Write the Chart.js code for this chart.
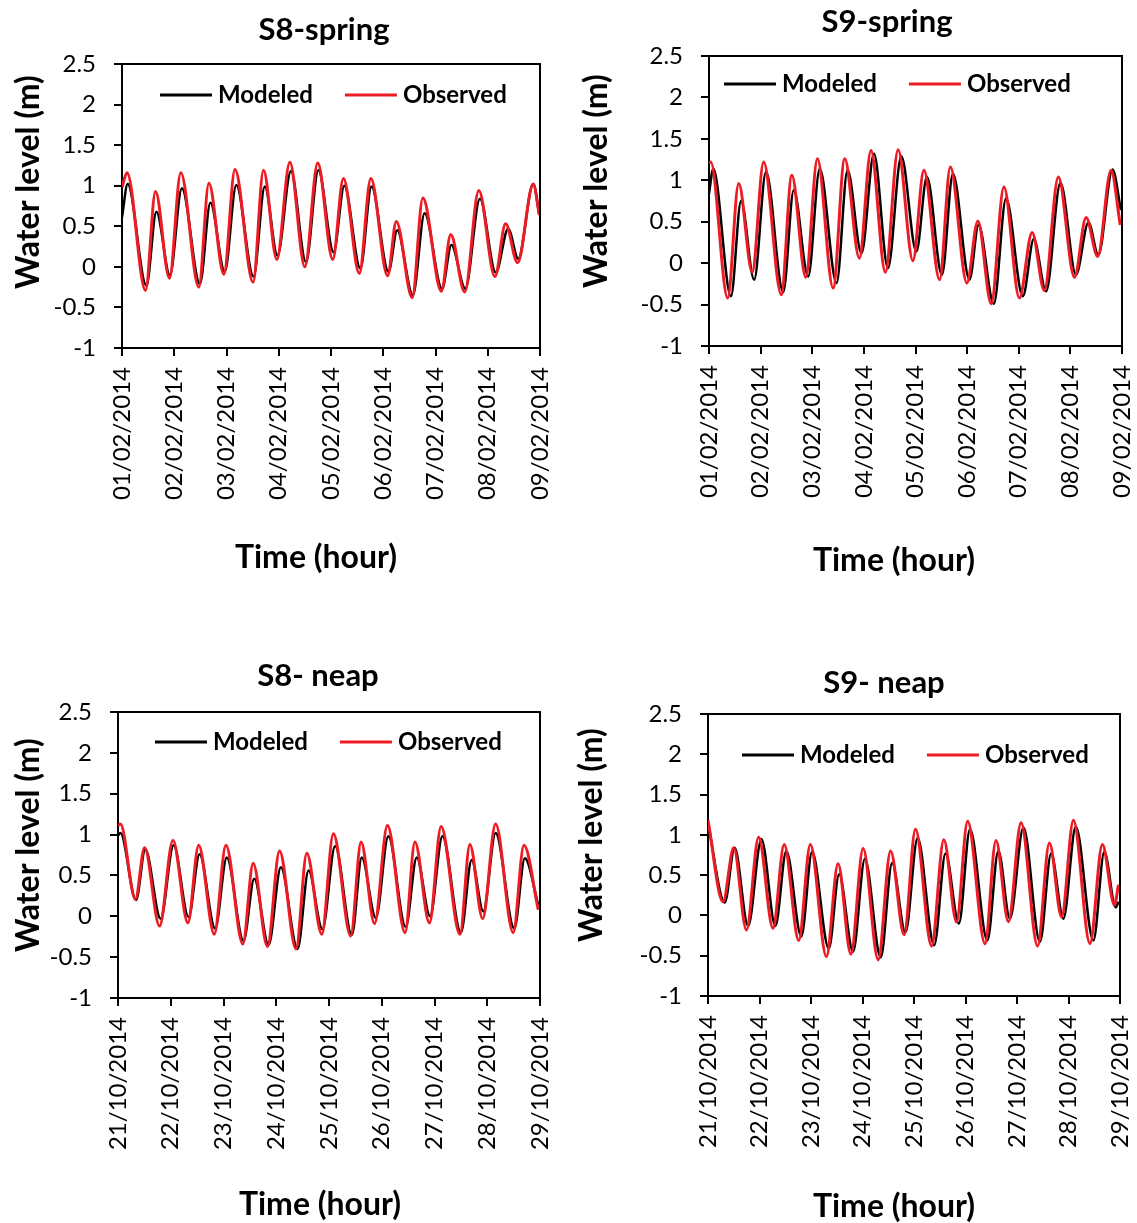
<!DOCTYPE html>
<html>
<head>
<meta charset="utf-8">
<title>Water level - modeled vs observed</title>
<script src="https://cdn.jsdelivr.net/npm/chart.js@4.4.1/dist/chart.umd.min.js"></script>
<style>
    html, body { margin: 0; padding: 0; background: #fff; }
    #wrap { position: relative; width: 1137px; height: 1223px; }
    #wrap canvas { position: absolute; left: 0; top: 0; }
</style>
</head>
<body>
<div id="wrap">
    <canvas id="s8Spring" width="1137" height="1223"></canvas>
    <canvas id="s9Spring" width="1137" height="1223"></canvas>
    <canvas id="s8Neap" width="1137" height="1223"></canvas>
    <canvas id="s9Neap" width="1137" height="1223"></canvas>
</div>
<script>
// x tick labels (one per day, 24 h apart)
const springDates = ['01/02/2014', '02/02/2014', '03/02/2014', '04/02/2014', '05/02/2014',
                     '06/02/2014', '07/02/2014', '08/02/2014', '09/02/2014'];
const neapDates = ['21/10/2014', '22/10/2014', '23/10/2014', '24/10/2014', '25/10/2014',
                   '26/10/2014', '27/10/2014', '28/10/2014', '29/10/2014'];
const seriesNames = ['Modeled', 'Observed'];

// S8 spring (hours from start, water level m) - high and low waters
const s8SpringModHours = [0, 2.6, 11.2, 15.8, 22.0, 27.5, 35.8, 40.6, 47.2, 52.5, 60.4, 65.6, 71.4, 77.6, 84.5, 90.2,
                          97.2, 102.1, 109.5, 114.6, 122.4, 126.4, 133.6, 139.0, 147.0, 151.3, 157.7, 164.4, 171.7, 177.4, 182.0, 188.9, 191.7];
const s8SpringModLevel = [0.61, 1.02, -0.23, 0.68, -0.10, 0.97, -0.21, 0.79, -0.06, 1.01, -0.12, 0.99, 0.14, 1.18, 0.06, 1.19,
                          0.18, 1.00, -0.02, 0.99, -0.06, 0.45, -0.35, 0.66, -0.27, 0.27, -0.27, 0.84, -0.07, 0.47, 0.10, 1.02, 0.64];
const s8SpringObsHours = [0, 2.3, 10.8, 15.4, 21.8, 27.0, 35.3, 39.9, 46.8, 51.9, 60.2, 65.0, 71.1, 77.1, 84.0, 89.9,
                          96.8, 101.7, 109.0, 114.3, 122.0, 126.0, 133.3, 138.2, 146.7, 151.0, 157.4, 163.9, 171.3, 176.2, 181.7, 188.9, 191.7];
const s8SpringObsLevel = [0.98, 1.16, -0.29, 0.93, -0.14, 1.16, -0.25, 1.03, -0.09, 1.20, -0.19, 1.19, 0.09, 1.29, 0.00, 1.28,
                          0.09, 1.09, -0.08, 1.09, -0.11, 0.56, -0.38, 0.85, -0.30, 0.40, -0.31, 0.94, -0.12, 0.53, 0.05, 1.02, 0.64];

// S9 spring
const s9SpringModHours = [0, 2.0, 10.2, 14.9, 21.0, 26.5, 34.5, 39.4, 46.1, 51.5, 59.3, 64.4, 70.9, 76.7, 83.2, 89.4,
                          96.4, 101.3, 108.3, 113.4, 121.1, 125.3, 132.4, 138.1, 145.9, 151.0, 156.7, 163.4, 170.6, 176.4, 181.0, 187.6, 191.5];
const s9SpringModLevel = [0.84, 1.14, -0.40, 0.75, -0.20, 1.10, -0.35, 0.88, -0.16, 1.14, -0.24, 1.12, 0.12, 1.32, -0.06, 1.29,
                          0.14, 1.04, -0.14, 1.08, -0.20, 0.46, -0.49, 0.78, -0.40, 0.29, -0.34, 0.97, -0.14, 0.49, 0.10, 1.13, 0.64];
const s9SpringObsHours = [0, 0.8, 8.7, 13.8, 20.1, 25.4, 33.6, 38.5, 45.0, 50.4, 57.7, 63.1, 69.9, 75.3, 82.0, 87.9,
                          94.8, 99.9, 107.2, 112.2, 119.9, 125.0, 131.2, 137.1, 144.3, 150.2, 155.9, 162.4, 169.9, 175.3, 180.7, 186.9, 191.2];
const s9SpringObsLevel = [1.21, 1.22, -0.42, 0.96, -0.11, 1.22, -0.38, 1.06, -0.17, 1.26, -0.30, 1.26, 0.06, 1.36, -0.11, 1.37,
                          0.03, 1.12, -0.20, 1.16, -0.24, 0.51, -0.49, 0.92, -0.42, 0.37, -0.33, 1.04, -0.17, 0.55, 0.08, 1.12, 0.46];

// S8 neap
const s8NeapModHours = [0, 1.1, 8.2, 12.4, 19.4, 25.3, 32.1, 37.1, 44.2, 49.5, 57.1, 62.0, 68.5, 74.1, 81.7, 86.7,
                        93.0, 98.8, 106.4, 110.9, 117.3, 123.0, 130.9, 135.9, 142.0, 147.6, 156.0, 160.9, 166.2, 171.8, 180.3, 185.1, 191.2];
const s8NeapModLevel = [0.99, 1.02, 0.20, 0.82, -0.03, 0.87, -0.01, 0.76, -0.15, 0.72, -0.30, 0.46, -0.35, 0.60, -0.40, 0.56,
                        -0.16, 0.86, -0.23, 0.72, -0.02, 0.98, -0.13, 0.72, 0.00, 0.98, -0.20, 0.69, 0.06, 1.02, -0.15, 0.71, 0.14];
const s8NeapObsHours = [0, 1.1, 7.9, 12.1, 18.9, 25.0, 31.8, 36.7, 43.8, 49.1, 56.8, 61.5, 68.0, 73.5, 81.0, 85.9,
                        92.7, 98.0, 105.9, 110.6, 116.7, 122.6, 130.6, 135.1, 141.7, 147.0, 155.6, 160.1, 165.9, 171.8, 179.8, 184.7, 191.2];
const s8NeapObsLevel = [1.11, 1.13, 0.21, 0.84, -0.12, 0.93, -0.08, 0.87, -0.22, 0.87, -0.34, 0.65, -0.37, 0.80, -0.40, 0.77,
                        -0.22, 1.01, -0.24, 0.91, -0.09, 1.11, -0.20, 0.91, -0.08, 1.10, -0.22, 0.88, -0.03, 1.13, -0.20, 0.87, 0.08];

// S9 neap
const s9NeapModHours = [0, 7.8, 12.4, 18.7, 24.9, 31.4, 36.5, 43.5, 48.5, 56.3, 61.1, 67.6, 73.1, 80.5, 85.8, 92.0,
                        97.7, 105.4, 110.7, 116.9, 122.1, 130.2, 135.3, 140.7, 147.0, 154.7, 159.9, 165.6, 171.4, 179.6, 184.7, 190.0, 191.3];
const s9NeapModLevel = [1.15, 0.16, 0.84, -0.13, 0.95, -0.13, 0.80, -0.26, 0.79, -0.41, 0.51, -0.45, 0.70, -0.52, 0.65, -0.21,
                        0.96, -0.37, 0.77, -0.10, 1.07, -0.31, 0.80, -0.04, 1.09, -0.33, 0.77, -0.04, 1.10, -0.31, 0.79, 0.10, 0.17];
const s9NeapObsHours = [0, 7.0, 12.0, 17.9, 23.6, 30.3, 35.5, 42.3, 47.7, 55.2, 60.6, 66.6, 72.3, 79.3, 85.1, 91.4,
                        96.7, 104.2, 109.9, 115.8, 121.0, 129.1, 134.2, 140.0, 145.9, 153.6, 159.1, 164.8, 170.3, 178.0, 183.8, 189.4, 191.3];
const s9NeapObsLevel = [1.18, 0.17, 0.84, -0.18, 0.97, -0.16, 0.88, -0.31, 0.88, -0.51, 0.64, -0.48, 0.83, -0.55, 0.80, -0.24,
                        1.07, -0.38, 0.94, -0.08, 1.17, -0.35, 0.93, -0.08, 1.15, -0.38, 0.90, -0.02, 1.18, -0.35, 0.88, 0.13, 0.38];

const PAGE_W = 1137;
const PAGE_H = 1223;
const RED = '#ED1C24';

Chart.defaults.font.family = 'Lato, "Open Sans", sans-serif';
Chart.defaults.color = '#000';

/**
 * Draws date tick labels, panel titles, axis titles, legend and the top/right frame
 */
const panelText = {
    id: 'panelText',
    afterDraw(chart, args, opts) {
        const ctx = chart.ctx;
        const a = chart.chartArea;
        const xScale = chart.scales.x;
        ctx.save();

        // top and right frame lines
        ctx.strokeStyle = '#000';
        ctx.lineWidth = 2;
        ctx.beginPath();
        ctx.moveTo(a.left, a.top);
        ctx.lineTo(a.right, a.top);
        ctx.lineTo(a.right, a.bottom);
        ctx.stroke();

        ctx.fillStyle = '#000';

        // date labels, rotated, reading bottom to top
        ctx.font = '24px Lato';
        ctx.textAlign = 'right';
        ctx.textBaseline = 'middle';
        xScale.ticks.forEach(t => {
            const px = xScale.getPixelForValue(t.value);
            ctx.save();
            ctx.translate(px, a.bottom + 19);
            ctx.rotate(-Math.PI / 2);
            ctx.fillText(opts.dates[Math.round(t.value / 24)], 0, 0);
            ctx.restore();
        });

        ctx.textAlign = 'center';
        ctx.font = 'bold 31px Lato';
        ctx.fillText(opts.title, opts.titlePos[0], opts.titlePos[1]);

        ctx.font = 'bold 32px Lato';
        ctx.fillText('Time (hour)', opts.xTitlePos[0], opts.xTitlePos[1]);

        ctx.save();
        ctx.translate(opts.yTitlePos[0], opts.yTitlePos[1]);
        ctx.rotate(-Math.PI / 2);
        ctx.fillText('Water level (m)', 0, 0);
        ctx.restore();

        // legend
        ctx.font = 'bold 24px Lato';
        ctx.textAlign = 'left';
        let x = opts.legendPos[0];
        const y = opts.legendPos[1];
        chart.data.datasets.forEach(ds => {
            ctx.strokeStyle = ds.borderColor;
            ctx.lineWidth = 3;
            ctx.beginPath();
            ctx.moveTo(x, y);
            ctx.lineTo(x + 52, y);
            ctx.stroke();
            ctx.fillText(ds.label, x + 58, y);
            x += 58 + ctx.measureText(ds.label).width + 32;
        });

        ctx.restore();
    }
};

function toPoints(hours, levels) {
    return hours.map((h, i) => ({ x: h, y: levels[i] }));
}

const panels = [
    {
        canvas: 's8Spring', title: 'S8-spring', dates: springDates,
        mod: toPoints(s8SpringModHours, s8SpringModLevel), obs: toPoints(s8SpringObsHours, s8SpringObsLevel),
        area: { left: 122, top: 64, right: 540, bottom: 348 },
        titlePos: [324, 30], yTitlePos: [29, 182], xTitlePos: [316, 558], legendPos: [160, 95]
    },
    {
        canvas: 's9Spring', title: 'S9-spring', dates: springDates,
        mod: toPoints(s9SpringModHours, s9SpringModLevel), obs: toPoints(s9SpringObsHours, s9SpringObsLevel),
        area: { left: 709, top: 56, right: 1122, bottom: 346 },
        titlePos: [887, 22], yTitlePos: [597, 181], xTitlePos: [894, 561], legendPos: [724, 84]
    },
    {
        canvas: 's8Neap', title: 'S8- neap', dates: neapDates,
        mod: toPoints(s8NeapModHours, s8NeapModLevel), obs: toPoints(s8NeapObsHours, s8NeapObsLevel),
        area: { left: 118, top: 712, right: 540, bottom: 998 },
        titlePos: [318, 676], yTitlePos: [29, 845], xTitlePos: [320, 1205], legendPos: [155, 742]
    },
    {
        canvas: 's9Neap', title: 'S9- neap', dates: neapDates,
        mod: toPoints(s9NeapModHours, s9NeapModLevel), obs: toPoints(s9NeapObsHours, s9NeapObsLevel),
        area: { left: 708, top: 714, right: 1120, bottom: 996 },
        titlePos: [884, 683], yTitlePos: [592, 835], xTitlePos: [894, 1207], legendPos: [742, 755]
    }
];

function makePanel(p) {
    const el = document.getElementById(p.canvas);
    const axisGrid = {
        drawOnChartArea: false,
        drawTicks: true,
        tickLength: 8,
        color: '#000',
        lineWidth: 2
    };
    const axisBorder = { display: true, color: '#000', width: 2 };

    return new Chart(el.getContext('2d'), {
        type: 'line',
        data: {
            datasets: [{
                label: seriesNames[0],
                data: p.mod,
                borderColor: '#000',
                backgroundColor: '#000',
                borderWidth: 2.5,
                order: 1
            }, {
                label: seriesNames[1],
                data: p.obs,
                borderColor: RED,
                backgroundColor: RED,
                borderWidth: 3,
                order: 0
            }]
        },
        options: {
            responsive: false,
            animation: false,
            elements: {
                point: { radius: 0 },
                line: { cubicInterpolationMode: 'monotone', fill: false }
            },
            layout: {
                padding: {
                    left: 0,
                    top: p.area.top,
                    right: PAGE_W - p.area.right,
                    bottom: PAGE_H - p.area.bottom - 20
                }
            },
            plugins: {
                legend: { display: false },
                tooltip: { enabled: false },
                title: { display: false },
                panelText: p
            },
            scales: {
                x: {
                    type: 'linear',
                    min: 0,
                    max: 192,
                    grid: axisGrid,
                    border: axisBorder,
                    ticks: {
                        stepSize: 24,
                        autoSkip: false,
                        display: false
                    },
                    afterFit: function(scale) {
                        scale.height = 20;
                        scale.paddingLeft = 0;
                        scale.paddingRight = 0;
                    }
                },
                y: {
                    min: -1,
                    max: 2.5,
                    grid: axisGrid,
                    border: axisBorder,
                    ticks: {
                        stepSize: 0.5,
                        padding: 18,
                        color: '#000',
                        font: { size: 24 },
                        callback: function(value) {
                            return String(value);
                        }
                    },
                    afterFit: function(scale) {
                        scale.width = p.area.left;
                        scale.paddingTop = 0;
                        scale.paddingBottom = 0;
                    }
                }
            }
        },
        plugins: [panelText]
    });
}

panels.forEach(makePanel);
</script>
</body>
</html>
